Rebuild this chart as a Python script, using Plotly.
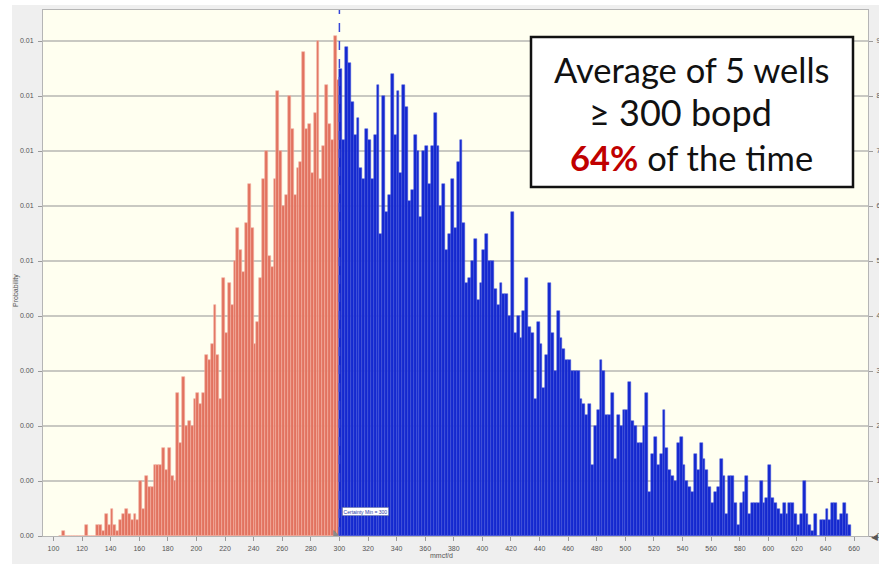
import plotly.graph_objects as go

# ---------------- data (counts per 2-unit bin, 10,000 trials) ----------------
TRIALS = 10000
BIN_START = 104
BIN_WIDTH = 2
CERTAINTY_MIN = 300

red_counts = [
    0, 1, 0, 0, 0, 0, 0, 0, 0, 2, 0, 0, 0, 2, 2, 1,
    4, 2, 5, 2, 1, 3, 4, 5, 4, 3, 4, 3, 10, 5, 11, 9, 9, 13, 13, 13,
    16, 12, 16, 11, 10, 26, 17, 29, 20, 21, 20, 25, 26, 24,
    26, 33, 32, 35, 42, 33, 25, 47, 37, 46, 42, 50, 56, 52, 48, 57, 64, 56, 35, 39,
    47, 65, 70, 51, 49, 65, 81, 70, 60, 62, 80, 74, 62, 67, 68, 88, 74, 75, 66, 77,
    90, 65, 71, 82, 75, 72, 91, 83,
]

blue_counts = [
    85, 72, 89, 86, 79, 73, 76, 67, 65, 74, 72, 65, 73, 82, 55, 80, 59, 62, 84, 73,
    81, 66, 82, 78, 61, 63, 73, 70, 58, 70, 71, 64, 71, 77, 71, 60, 64, 52, 55, 65,
    56, 68, 72, 57, 46, 47, 50, 54, 43, 46, 52,
    55, 50, 50, 45, 42, 46, 44, 44, 40, 59, 37, 40, 36, 41, 47, 38, 37, 25, 39, 35,
    27, 33, 46, 37, 30, 41, 36, 34, 32, 32, 30, 30, 30, 25, 24, 22, 24, 13, 20, 23,
    32, 30, 22, 22, 26, 14, 22, 20, 23, 23, 28, 21, 20, 17, 17,
    20, 26, 8, 15, 18, 13, 15, 23, 16, 12, 11, 10, 17, 18, 13, 10, 9, 8, 15, 12,
    17, 14, 12, 9, 6, 8, 9, 14, 11, 4, 11, 11, 6, 2, 6, 8, 11, 4, 6, 6,
    6, 10, 6, 7, 13, 7, 6, 5, 4, 6, 4, 6, 6, 4, 2, 4, 10, 4, 2, 1,
    4, 0, 3, 3, 5, 3, 6, 6, 3, 4, 6, 4, 2,
]

x_ticks = list(range(100, 661, 20))
prob_ticks = [i / 1000 for i in range(0, 10)]
freq_ticks = list(range(0, 91, 10))

title_lines = ["Average of 5 wells", "≥ 300 bopd", "64%", " of the time"]

# ---------------- derived positions ----------------
red_x = [BIN_START + BIN_WIDTH * (i + 0.5) for i in range(len(red_counts))]
blue_start = BIN_START + BIN_WIDTH * len(red_counts)
blue_x = [blue_start + BIN_WIDTH * (i + 0.5) for i in range(len(blue_counts))]
red_p = [c / TRIALS for c in red_counts]
blue_p = [c / TRIALS for c in blue_counts]

W, H = 879, 564
ML, MR, MT, MB = 43, 11, 10, 28
PW, PH = W - ML - MR, H - MT - MB


def px(x):
    return (x - ML) / PW


def py(y):
    return (H - MB - y) / PH


Y_TOP = 0.009 + 31 / 55 * 0.001
X_RANGE = [92.7, 669.7]

fig = go.Figure()
fig.add_trace(go.Bar(
    x=red_x, y=red_p, width=BIN_WIDTH,
    marker=dict(color="#e2725f", line=dict(color="#f4b0a2", width=0.6)),
    hoverinfo="x+y",
))
fig.add_trace(go.Bar(
    x=blue_x, y=blue_p, width=BIN_WIDTH,
    marker=dict(color="#1428cf", line=dict(color="#4454dc", width=0.5)),
    hoverinfo="x+y",
))
# invisible trace to carry the frequency axis
fig.add_trace(go.Scatter(
    x=blue_x, y=blue_counts, yaxis="y2", mode="lines",
    line=dict(width=0), opacity=0, hoverinfo="skip", showlegend=False,
))

tick_font = dict(family="Liberation Sans", size=7, color="#555555")

fig.update_layout(
    width=W, height=H,
    margin=dict(l=ML, r=MR, t=MT, b=MB, autoexpand=False),
    paper_bgcolor="#ffffff",
    plot_bgcolor="rgba(0,0,0,0)",
    bargap=0, barmode="overlay", showlegend=False,
    xaxis=dict(
        range=X_RANGE, tickvals=x_ticks, ticks="outside", ticklen=4,
        tickcolor="#9a9a9a", tickfont=tick_font, showgrid=False,
        showline=True, linecolor="#b5b5b5", linewidth=1, mirror=True,
        zeroline=False, ticklabelstandoff=2, automargin=False,
    ),
    yaxis=dict(
        range=[0, Y_TOP], tickvals=prob_ticks, tickformat=".2f",
        ticks="outside", ticklen=4, tickcolor="#9a9a9a", tickfont=tick_font,
        showgrid=True, gridcolor="#c9c9c2", gridwidth=1.5,
        showline=True, linecolor="#b5b5b5", linewidth=1, mirror=True,
        zeroline=False, ticklabelstandoff=3, automargin=False,
    ),
    yaxis2=dict(
        range=[0, Y_TOP * TRIALS], tickvals=freq_ticks, overlaying="y",
        side="right", ticks="outside", ticklen=4, tickcolor="#9a9a9a",
        tickfont=tick_font, showgrid=False, zeroline=False, showline=False,
        ticklabelstandoff=2, automargin=False,
    ),
)

shapes = [
    # grey window frame
    dict(type="rect", xref="paper", yref="paper", x0=px(12), x1=px(W + 5),
         y0=py(H + 5), y1=py(5), fillcolor="#efefef", line=dict(width=0),
         layer="below"),
    # cream plot area
    dict(type="rect", xref="paper", yref="paper", x0=0, x1=1, y0=0, y1=1,
         fillcolor="#fffff0", line=dict(width=0), layer="below"),
    # certainty dashed line
    dict(type="line", xref="x", yref="paper", x0=CERTAINTY_MIN, x1=CERTAINTY_MIN,
         y0=0, y1=1, line=dict(color="#3646d8", width=1.5, dash="dash")),
    # text box
    dict(type="rect", xref="paper", yref="paper", x0=px(531), x1=px(853),
         y0=py(187), y1=py(37), fillcolor="#ffffff",
         line=dict(color="#111111", width=2.5)),
]
fig.update_layout(shapes=shapes)

big_font = dict(family="Lato", size=34.5, color="#111111")
ann = [
    dict(xref="paper", yref="paper", x=px(692), y=py(70), text=title_lines[0],
         showarrow=False, font=big_font, xanchor="center", yanchor="middle"),
    dict(xref="paper", yref="paper", x=px(680), y=py(112), text=title_lines[1],
         showarrow=False, font=dict(family="Lato", size=36, color="#111111"),
         xanchor="center", yanchor="middle"),
    dict(xref="paper", yref="paper", x=px(691), y=py(157),
         text="<b><span style='color:#c00000'>" + title_lines[2] + "</span></b>" + title_lines[3],
         showarrow=False, font=big_font, xanchor="center", yanchor="middle"),
    # axis titles
    dict(xref="paper", yref="paper", x=px(441), y=py(555), text="mmcf/d",
         showarrow=False, font=dict(family="Liberation Sans", size=7, color="#555555"),
         xanchor="center", yanchor="middle"),
    dict(xref="paper", yref="paper", x=px(16), y=py(290), text="Probability",
         showarrow=False, textangle=-90,
         font=dict(family="Liberation Sans", size=7, color="#555555"),
         xanchor="center", yanchor="middle"),
    # certainty label
    dict(xref="x", yref="paper", x=CERTAINTY_MIN + 2, y=py(511),
         text="Certainty Min = 300", showarrow=False, xanchor="left", yanchor="middle",
         font=dict(family="Liberation Sans", size=5, color="#2a3aa8"),
         bgcolor="#ffffff", bordercolor="#5060a0", borderwidth=0.6, borderpad=1),
    # grabber triangles
    dict(xref="paper", yref="paper", x=px(874), y=py(536), text="◀",
         showarrow=False, font=dict(size=9, color="#555555"),
         xanchor="center", yanchor="middle"),
    dict(xref="x", yref="paper", x=CERTAINTY_MIN - 2, y=py(531), text="◣",
         showarrow=False, font=dict(size=8, color="#8a8a8a"),
         xanchor="center", yanchor="middle"),
]
fig.update_layout(annotations=ann)

fig.write_html(
    "out.html",
    config={"displayModeBar": False},
    post_script="document.body.style.margin='0';document.body.style.overflow='hidden';",
)
